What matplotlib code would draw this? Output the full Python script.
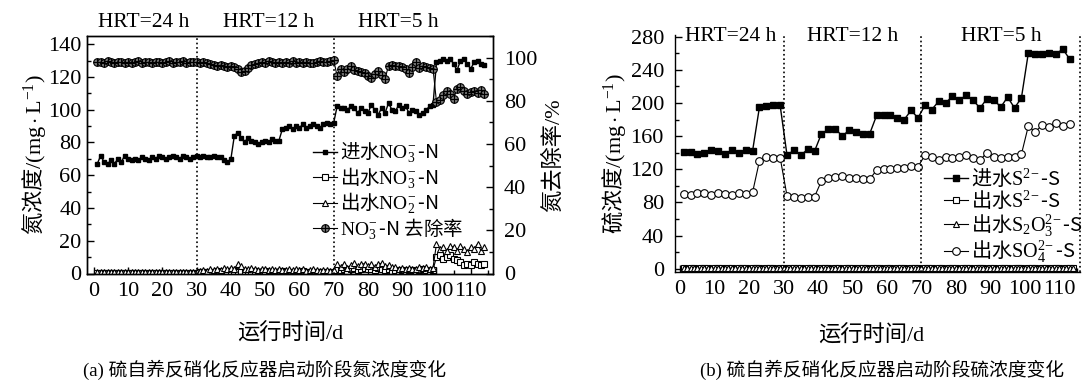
import matplotlib
matplotlib.use('Agg')
import matplotlib.pyplot as plt
from matplotlib.ticker import MultipleLocator

plt.rcParams['font.family'] = ['Liberation Serif', 'Noto Sans CJK SC']
plt.rcParams['mathtext.fontset'] = 'custom'
plt.rcParams['mathtext.rm'] = 'Liberation Serif'
plt.rcParams['mathtext.it'] = 'Liberation Serif:italic'
plt.rcParams['mathtext.bf'] = 'Liberation Serif:bold'
plt.rcParams['font.size'] = 16
plt.rcParams['axes.linewidth'] = 1.0

CJK = ['Noto Sans CJK SC', 'Liberation Serif']

# ---- (a) nitrogen, daily samples ----
days_n = list(range(1, 115))

no3_in = [67, 72, 68, 67, 69, 67, 70, 68, 72, 70,
          69, 70, 69, 71, 70, 69, 71, 70, 72, 71,
          70, 71, 72, 71, 70, 72, 71, 70, 71, 72,
          71, 72, 71, 71, 72, 71, 71, 69, 68, 70,
          84, 86, 83, 80, 83, 81, 80, 79, 80, 81,
          80, 82, 81, 81, 88, 89, 90, 88, 90, 89,
          91, 89, 90, 91, 90, 89, 91, 92, 91, 92,
          102, 101, 101, 100, 102, 101, 98, 101, 99, 98,
          103, 100, 97, 101, 98, 104, 100, 99, 103, 101,
          102, 98, 100, 99, 97, 98, 100, 102, 103, 129,
          130, 131, 130, 131, 128, 124, 130, 131, 128, 125,
          129, 130, 128, 127]

no3_out = [0.5, 0.6, 0.4, 0.5, 0.6, 0.5, 0.4, 0.5, 0.6, 0.5,
           0.5, 0.4, 0.6, 0.5, 0.5, 0.6, 0.4, 0.5, 0.5, 0.6,
           0.5, 0.4, 0.5, 0.6, 0.5, 0.5, 0.4, 0.6, 0.5, 0.5,
           0.8, 1.0, 1.2, 0.9, 1.1, 1.3, 1.0, 1.2, 1.4, 1.1,
           1.5, 1.2, 1.8, 1.6, 1.3, 1.1, 1.4, 1.2, 1.0, 1.3,
           1.1, 0.9, 1.2, 1.0, 1.3, 1.1, 0.9, 1.2, 1.0, 1.1,
           1.3, 1.0, 0.9, 1.2, 1.1, 1.0, 1.2, 0.9, 1.1, 1.0,
           2.5, 2.0, 3.0, 1.8, 2.6, 3.2, 2.2, 2.8, 3.4, 2.6,
           3.0, 2.4, 3.5, 2.8, 2.2, 2.6, 1.8, 2.0, 1.6, 2.2,
           1.8, 2.4, 2.0, 1.6, 2.2, 2.6, 2.0, 1.8, 2.4, 10,
           11, 9, 10, 11, 9, 8, 7, 5, 6, 5,
           7, 6, 5, 6]

no2_out = [1.0, 0.9, 1.1, 1.0, 0.8, 1.0, 1.1, 0.9, 1.0, 1.0,
           0.9, 1.1, 1.0, 0.9, 1.0, 1.1, 1.0, 0.9, 1.0, 1.0,
           1.1, 0.9, 1.0, 1.0, 1.1, 0.9, 1.0, 1.1, 1.0, 1.2,
           1.5, 2.0, 1.8, 2.5, 2.0, 3.0, 2.2, 3.2, 2.5, 3.5,
           3.0, 5.5, 4.5, 3.0, 2.5, 3.2, 2.8, 2.2, 3.0, 2.5,
           2.0, 2.8, 2.2, 3.0, 2.4, 2.0, 2.6, 2.2, 2.8, 2.0,
           2.5, 1.8, 2.2, 2.6, 2.0, 1.8, 2.4, 2.0, 1.6, 2.2,
           5.5, 4.0, 6.0, 3.5, 5.0, 6.5, 4.5, 5.5, 6.0, 4.8,
           5.6, 4.2, 5.8, 6.2, 4.5, 5.0, 3.8, 4.2, 3.0, 3.6,
           2.8, 3.4, 3.0, 2.6, 3.8, 3.2, 4.0, 3.0, 3.6, 18,
           15, 16, 14, 17, 16, 14, 17, 15, 13, 16,
           15, 18, 14, 16]

removal = [97.8, 98.0, 97.6, 98.2, 97.9, 97.5, 98.1, 97.8, 97.6, 98.0,
           97.7, 97.9, 98.2, 97.6, 97.8, 98.0, 97.5, 97.9, 98.1, 97.7,
           97.9, 98.2, 97.6, 98.0, 97.8, 98.3, 97.7, 98.0, 97.8, 97.9,
           97.6, 97.8, 97.4, 97.2, 96.8, 96.3, 96.6, 95.9, 95.5, 96.2,
           95.8, 94.6, 93.5, 94.0, 95.3, 96.5, 97.1, 97.6, 98.0, 97.5,
           98.2, 97.8, 97.6, 98.1, 97.4, 97.9, 97.7, 98.3, 97.5, 97.8,
           97.4, 98.0, 97.7, 97.3, 97.9, 98.4, 98.1, 97.8, 98.5, 98.8,
           91.5, 94.8, 93.5, 94.5, 96.0, 94.3, 93.8, 93.5, 92.8, 91.5,
           90.5, 92.5, 93.8, 92.0, 90.3, 96.2, 96.5, 96.0, 96.3, 95.5,
           94.8, 92.8, 95.5, 97.8, 95.0, 96.2, 95.8, 95.3, 94.8, 79.5,
           80.5, 82.5, 84.5, 83.0, 81.0, 85.5, 86.5, 84.5, 83.0, 84.0,
           84.5, 83.5, 85.0, 83.0]

# ---- (b) sulfur ----
days_s = list(range(1, 114, 2))

s_in = [141, 141, 139, 140, 143, 142, 139, 143, 140, 143, 142,
        195, 196, 197, 197,
        137, 143, 137, 144, 142,
        163, 168, 169, 160, 167, 165, 163, 163,
        185, 186, 186, 182, 180, 191, 182,
        197, 192, 202, 200, 208, 204, 209, 203, 194, 205, 204, 195, 207, 194, 206,
        260, 259, 259, 260, 259, 265, 253]

so4_out = [90, 89, 91, 91, 89, 91, 90, 89, 91, 90, 92,
           130, 135, 133, 134,
           88, 86, 85, 86, 87,
           106, 110, 111, 112, 110, 109, 108, 108,
           119, 120, 120, 121, 122, 124, 123,
           137, 135, 131, 135, 134, 135, 137, 134, 131, 140, 135, 134, 135, 135, 138,
           172, 165, 173, 171, 176, 172, 175]

s_out = [0.3, 0.2, 0.4, 0.3, 0.2, 0.3, 0.4, 0.3, 0.2, 0.3,
         0.3, 0.4, 0.2, 0.3, 0.3, 0.2, 0.4, 0.3, 0.3, 0.2,
         0.3, 0.4, 0.3, 0.2, 0.3, 0.3, 0.4, 0.2, 0.3, 0.3,
         0.2, 0.3, 0.4, 0.3, 0.3, 0.2, 0.3, 0.4, 0.3, 0.2,
         0.3, 0.3, 0.4, 0.2, 0.3, 0.3, 0.2, 0.4, 0.3, 0.3,
         0.2, 0.3, 0.4, 0.3, 0.2, 0.3, 0.3, 0.4, 0.2, 0.3,
         0.3, 0.2, 0.4, 0.3, 0.3, 0.2, 0.3, 0.4, 0.3, 0.2,
         0.3, 0.3, 0.4, 0.2, 0.3, 0.3, 0.2, 0.4, 0.3, 0.3,
         0.2, 0.3, 0.4, 0.3, 0.2, 0.3, 0.3, 0.4, 0.2, 0.3,
         0.3, 0.2, 0.4, 0.3, 0.3, 0.2, 0.3, 0.4, 0.3, 0.2,
         0.3, 0.3, 0.4, 0.2, 0.3, 0.3, 0.2, 0.4, 0.3, 0.3,
         0.2, 0.3, 0.4, 0.3]

s2o3_out = [0.6, 0.5, 0.7, 0.6, 0.5, 0.6, 0.7, 0.5, 0.6, 0.6,
            0.5, 0.7, 0.6, 0.6, 0.5, 0.6, 0.7, 0.6, 0.5, 0.6,
            0.6, 0.7, 0.5, 0.6, 0.6, 0.5, 0.7, 0.6, 0.6, 0.5,
            0.6, 0.7, 0.6, 0.5, 0.6, 0.6, 0.7, 0.5, 0.6, 0.6,
            0.5, 0.7, 0.6, 0.6, 0.5, 0.6, 0.7, 0.6, 0.5, 0.6,
            0.6, 0.7, 0.5, 0.6, 0.6, 0.5, 0.7, 0.6, 0.6, 0.5,
            0.6, 0.7, 0.6, 0.5, 0.6, 0.6, 0.7, 0.5, 0.6, 0.6,
            0.5, 0.7, 0.6, 0.6, 0.5, 0.6, 0.7, 0.6, 0.5, 0.6,
            0.6, 0.7, 0.5, 0.6, 0.6, 0.5, 0.7, 0.6, 0.6, 0.5,
            0.6, 0.7, 0.6, 0.5, 0.6, 0.6, 0.7, 0.5, 0.6, 0.6,
            0.5, 0.7, 0.6, 0.6, 0.5, 0.6, 0.7, 0.6, 0.5, 0.6,
            0.6, 0.7, 0.5, 0.6]

phase_bounds = [30, 70]
hrt_labels = ['HRT=24 h', 'HRT=12 h', 'HRT=5 h']
hrt_x_a = [14.5, 51, 89]
hrt_x_b = [14.8, 50, 93.3]

W, H = 1085, 380
fig = plt.figure(figsize=(W / 100, H / 100), dpi=100)


def px_axes(x0, y0, x1, y1):
    return fig.add_axes([x0 / W, 1 - y1 / H, (x1 - x0) / W, (y1 - y0) / H])


def style_ticks(ax, pad):
    ax.tick_params(which='major', direction='in', length=5, width=1, pad=pad)
    ax.tick_params(which='minor', direction='in', length=3, width=1)


# ================= (a) =================
ax = px_axes(87, 36, 493, 273.5)
axr = ax.twinx()

l1, = ax.plot(days_n, no3_in, '-', color='k', lw=1.0, marker='s', ms=2.2)
l2, = ax.plot(days_n, no3_out, '-', color='k', lw=0.8, marker='s', ms=4,
              mfc='white', mew=0.8)
l3, = ax.plot(days_n, no2_out, '-', color='k', lw=0.8, marker='^', ms=4.5,
              mfc='white', mew=0.8)
l4a, = axr.plot(days_n, removal, '-', color='k', lw=0.8, marker='o', ms=5.5,
                mfc='#777777', mec='k', mew=0.8)
l4b, = axr.plot(days_n, removal, ls='none', color='k', marker='+', ms=5.5,
                mew=0.8)

for xb in phase_bounds:
    ax.axvline(xb, color='k', ls=':', lw=1.2)

ax.set_xlim(-2, 116.5)
ax.set_ylim(0, 145)
axr.set_ylim(0, 110)
ax.xaxis.set_major_locator(MultipleLocator(10))
ax.xaxis.set_minor_locator(MultipleLocator(5))
ax.yaxis.set_major_locator(MultipleLocator(20))
ax.yaxis.set_minor_locator(MultipleLocator(10))
axr.yaxis.set_major_locator(MultipleLocator(20))
axr.yaxis.set_minor_locator(MultipleLocator(10))
style_ticks(ax, 4)
style_ticks(axr, 8)
ax.tick_params(axis='x', pad=6)

ax.set_ylabel(r'氮浓度$\mathrm{/(mg\cdot L^{-1})}$', family=CJK, labelpad=0)
axr.set_ylabel('氮去除率/%', labelpad=4)

for t, xv in zip(hrt_labels, hrt_x_a):
    ax.text(xv, 153, t, ha='center', va='center', fontsize=15.5)

axr.legend([l1, l2, l3, (l4a, l4b)],
           [r'进水$\mathrm{NO_3^{\!-}}$-N', r'出水$\mathrm{NO_3^{\!-}}$-N',
            r'出水$\mathrm{NO_2^{\!-}}$-N', r'$\mathrm{NO_3^{\!-}}$-N 去除率'],
           loc='upper left', bbox_to_anchor=(303 / W, 1 - 131 / H),
           bbox_transform=fig.transFigure, frameon=False, borderpad=0,
           handlelength=1.25, handletextpad=0.15, labelspacing=0.0,
           prop={'family': CJK, 'size': 14})

fig.text(290 / W, 1 - 334 / H, '运行时间/d', ha='center', va='center', fontsize=16)
fig.text(265 / W, 1 - 370 / H, '(a) 硫自养反硝化反应器启动阶段氮浓度变化',
         ha='center', va='center', fontsize=13.5)

# ================= (b) =================
bx = px_axes(675, 35, 1080, 272)

m1, = bx.plot(days_s, s_in, '-', color='k', lw=1.0, marker='s', ms=4.2)
m2, = bx.plot(days_n, s_out, '-', color='k', lw=0.8, marker='s', ms=4,
              mfc='white', mew=0.8)
m3, = bx.plot(days_n, s2o3_out, '-', color='k', lw=0.8, marker='^', ms=4.5,
              mfc='white', mew=0.8)
m4, = bx.plot(days_s, so4_out, '-', color='k', lw=0.8, marker='o', ms=5.5,
              mfc='white', mew=0.8)

bx.set_xlim(-1.5, 116)
bx.set_ylim(-4, 282)
for xb in phase_bounds + [116]:
    bx.axvline(xb, color='k', ls=':', lw=1.2, clip_on=False)
bx.spines['top'].set_visible(False)
bx.spines['right'].set_visible(False)
bx.xaxis.set_major_locator(MultipleLocator(10))
bx.xaxis.set_minor_locator(MultipleLocator(5))
bx.yaxis.set_major_locator(MultipleLocator(40))
bx.yaxis.set_minor_locator(MultipleLocator(20))
style_ticks(bx, 8)
bx.tick_params(axis='x', pad=6)

bx.set_ylabel(r'硫浓度$\mathrm{/(mg\cdot L^{-1})}$', family=CJK, labelpad=2)

for t, xv in zip(hrt_labels, hrt_x_b):
    bx.text(xv, 280, t, ha='center', va='center', fontsize=15.5)

bx.legend([m1, m2, m3, m4],
          [r'进水$\mathrm{S^{2\!-}}$-S', r'出水$\mathrm{S^{2\!-}}$-S',
           r'出水$\mathrm{S_2O_3^{2\!-}}$-S', r'出水$\mathrm{SO_4^{2\!-}}$-S'],
          loc='upper left', bbox_to_anchor=(934 / W, 1 - 158 / H),
          bbox_transform=fig.transFigure, frameon=False, borderpad=0,
          handlelength=1.2, handletextpad=0.15, labelspacing=0.0,
          prop={'family': CJK, 'size': 14.5})

fig.text(871 / W, 1 - 336 / H, '运行时间/d', ha='center', va='center', fontsize=16)
fig.text(700 / W, 1 - 370 / H, '(b) 硫自养反硝化反应器启动阶段硫浓度变化',
         ha='left', va='center', fontsize=13.5)

fig.savefig('out.png', dpi=100)
